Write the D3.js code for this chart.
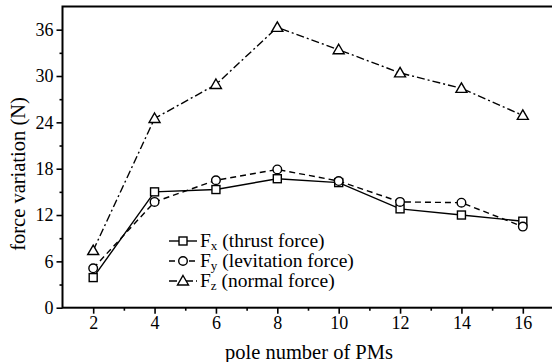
<!DOCTYPE html>
<html>
<head>
<meta charset="utf-8">
<script src="https://d3js.org/d3.v7.min.js"></script>
<style>
  body { margin: 0; background: #fff; }
  svg { display: block; }
  text { font-family: "Liberation Serif", "Times New Roman", serif; fill: #000; }
</style>
</head>
<body>
<div class="chart"></div>
<script>
// Chart data
var poles = [2, 4, 6, 8, 10, 12, 14, 16];
var thrustForce = [3.9, 15.0, 15.3, 16.7, 16.2, 12.8, 12.0, 11.2];
var levitationForce = [5.1, 13.7, 16.5, 17.9, 16.4, 13.7, 13.6, 10.5];
var normalForce = [7.4, 24.5, 28.9, 36.3, 33.4, 30.4, 28.4, 24.9];
var xTickValues = [2, 4, 6, 8, 10, 12, 14, 16];
var yTickValues = [0, 6, 12, 18, 24, 30, 36];
var legendLabels = [["F", "x", " (thrust force)"], ["F", "y", " (levitation force)"], ["F", "z", " (normal force)"]];

var svgWidth = 552;
var svgHeight = 362;

// plot area (right edge sits just outside the picture)
var plotLeft = 62.5, plotRight = 553.5, plotTop = 6.5, plotBottom = 307.7;

var svg = d3.select(".chart")
  .append("svg")
  .attr("width", svgWidth)
  .attr("height", svgHeight);

var xScale = d3.scaleLinear().domain([1, 17]).range([plotLeft, plotRight]);
var yScale = d3.scaleLinear().domain([0, 39]).range([plotBottom, plotTop]);

// frame
svg.append("rect")
  .attr("x", plotLeft)
  .attr("y", plotTop)
  .attr("width", plotRight - plotLeft)
  .attr("height", plotBottom - plotTop)
  .attr("fill", "none")
  .attr("stroke", "#000")
  .attr("stroke-width", 2);

// axes: major + minor ticks
var xAxis = d3.axisBottom(xScale).tickValues(xTickValues).tickSize(6).tickSizeOuter(0).tickPadding(3);
var xMinor = d3.axisBottom(xScale).tickValues([3, 5, 7, 9, 11, 13, 15]).tickSize(3).tickSizeOuter(0).tickFormat("");
var yAxis = d3.axisLeft(yScale).tickValues(yTickValues).tickSize(6).tickSizeOuter(0).tickPadding(3);
var yMinor = d3.axisLeft(yScale).tickValues([3, 9, 15, 21, 27, 33]).tickSize(3).tickSizeOuter(0).tickFormat("");

function styleAxis(g) {
  g.select(".domain").remove();
  g.selectAll("line").attr("stroke", "#000").attr("stroke-width", 1.6);
  g.selectAll("text").style("font-family", "'Liberation Serif', serif").style("font-size", "18px");
}

svg.append("g").attr("transform", `translate(0, ${plotBottom})`).call(xAxis).call(styleAxis);
svg.append("g").attr("transform", `translate(0, ${plotBottom})`).call(xMinor).call(styleAxis);
svg.append("g").attr("transform", `translate(${plotLeft}, 0)`).call(yAxis).call(styleAxis);
svg.append("g").attr("transform", `translate(${plotLeft}, 0)`).call(yMinor).call(styleAxis);

// axis titles
svg.append("text")
  .attr("x", 309)
  .attr("y", 359)
  .attr("text-anchor", "middle")
  .style("font-size", "20.5px")
  .text("pole number of PMs");

svg.append("text")
  .attr("transform", "translate(25, 174) rotate(-90)")
  .attr("text-anchor", "middle")
  .style("font-size", "20.5px")
  .text("force variation (N)");

// series
var series = [
  { values: thrustForce, dash: null, marker: "square" },
  { values: levitationForce, dash: "6,4", marker: "circle" },
  { values: normalForce, dash: "8,3,2,3", marker: "triangle" }
];

var line = d3.line()
  .x(function(d) { return xScale(d[0]); })
  .y(function(d) { return yScale(d[1]); });

function drawMarker(g, type, x, y) {
  if (type === "square") {
    g.append("rect").attr("x", x - 4).attr("y", y - 4).attr("width", 8).attr("height", 8)
      .attr("fill", "#fff").attr("stroke", "#000").attr("stroke-width", 1.4);
  } else if (type === "circle") {
    g.append("circle").attr("cx", x).attr("cy", y).attr("r", 4.3)
      .attr("fill", "#fff").attr("stroke", "#000").attr("stroke-width", 1.4);
  } else {
    g.append("path").attr("d", `M${x},${y - 5.5}L${x + 5.5},${y + 4}L${x - 5.5},${y + 4}Z`)
      .attr("fill", "#fff").attr("stroke", "#000").attr("stroke-width", 1.4);
  }
}

series.forEach(function(s) {
  var pts = poles.map(function(p, i) { return [p, s.values[i]]; });
  svg.append("path")
    .datum(pts)
    .attr("d", line)
    .attr("fill", "none")
    .attr("stroke", "#000")
    .attr("stroke-width", 1.4)
    .attr("stroke-dasharray", s.dash);
  var mg = svg.append("g");
  pts.forEach(function(d) { drawMarker(mg, s.marker, xScale(d[0]), yScale(d[1])); });
});

// legend
var legendY = [241, 261, 281];
series.forEach(function(s, i) {
  var y = legendY[i];
  svg.append("line")
    .attr("x1", 169).attr("x2", 197).attr("y1", y).attr("y2", y)
    .attr("stroke", "#000").attr("stroke-width", 1.4)
    .attr("stroke-dasharray", s.dash);
  drawMarker(svg, s.marker, 183, y);
  var t = svg.append("text").attr("x", 200).attr("y", y + 6).style("font-size", "19.5px");
  t.append("tspan").text(legendLabels[i][0]);
  t.append("tspan").attr("dy", 3).style("font-size", "13px").text(legendLabels[i][1]);
  t.append("tspan").attr("dy", -3).text(legendLabels[i][2]);
});
</script>
</body>
</html>
